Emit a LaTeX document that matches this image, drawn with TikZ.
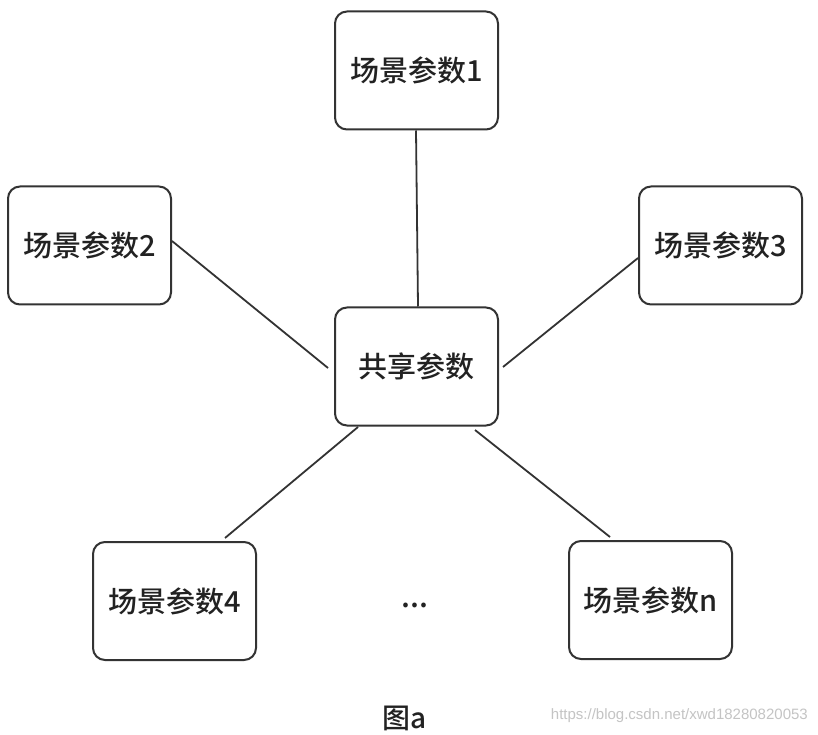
\documentclass[tikz,border=0pt]{standalone}
\usepackage{fontspec}
\setmainfont{Noto Sans CJK SC}[UprightFont=* Medium]
\newfontfamily\wmfont{Liberation Sans}
\begin{document}
\begin{tikzpicture}[x=1pt,y=1pt,
  box/.style={draw=boxgray, line width=2pt, rounded corners=12pt, fill=white,
    minimum width=163pt, minimum height=118pt, inner sep=0pt,
    font=\fontsize{29}{33}\selectfont, text=txtgray},
  link/.style={draw=boxgray, line width=1.8pt}]
\definecolor{boxgray}{HTML}{333333}
\definecolor{txtgray}{HTML}{222222}
\definecolor{wmgray}{HTML}{C4C4C4}
\useasboundingbox (0,0) rectangle (818,734);
\fill[white] (0,0) rectangle (818,734);
\node[box] (b1) at (416.5,663.5) {场景参数1};
\node[box] (b2) at (89.5,488.5) {场景参数2};
\node[box] (b3) at (720.5,488.5) {场景参数3};
\node[box] (c) at (416.5,367.5) {共享参数};
\node[box] (b4) at (174.5,133) {场景参数4};
\node[box] (bn) at (650.5,134) {场景参数n};
\node[font=\fontsize{30}{34}\selectfont, text=txtgray] (dots) at (415,129) {...};
\node[font=\fontsize{28}{32}\selectfont, text=txtgray] (cap) at (405,16) {图a};
\node[font=\wmfont\fontsize{15}{17}\selectfont, text=wmgray, anchor=east, inner sep=0pt] (wm) at (808,18) {https://blog.csdn.net/xwd18280820053};
\coordinate (e2) at (328,366);
\coordinate (e3) at (503,367);
\coordinate (e4) at (358,307);
\coordinate (en) at (475,304);
\coordinate (s4) at (225,196);
\coordinate (sn) at (610,197);
\draw[link] ([xshift=-0.5pt]b1.south) -- ([xshift=1.5pt]c.north);
\draw[link] ([yshift=4.5pt]b2.east) -- (e2);
\draw[link] ([yshift=-12.5pt]b3.west) -- (e3);
\draw[link] (e4) -- (s4);
\draw[link] (en) -- (sn);
\end{tikzpicture}
\end{document}
